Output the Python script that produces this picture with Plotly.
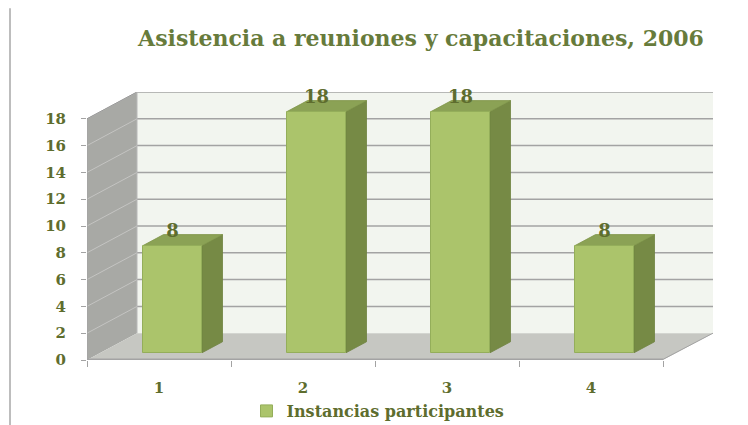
import plotly.graph_objects as go

# ---------------- data ----------------
categories = ["1", "2", "3", "4"]
values = [8, 18, 18, 8]
y_tick_values = [0, 2, 4, 6, 8, 10, 12, 14, 16, 18]
series_name = "Instancias participantes"
chart_title = "Asistencia a reuniones y capacitaciones, 2006"

# ---------------- geometry (pseudo 3-D) ----------------
W, H = 748, 439
L, R, T, B = 87, 715, 92, 361          # plot-area pixel box
PX_PER_CAT = 144.0
X0 = 0.5
X_END = X0 + (R - L) / PX_PER_CAT
Y_TOP = 20
DX = 50 / PX_PER_CAT
DY = 2
F0, F1 = 0.27, 0.68
BW = 59 / PX_PER_CAT

n = len(categories)
xpos = [i + 1 for i in range(n)]
x_last = X0 + n

wall_back = "#F2F5EF"
wall_left = "#A8A9A5"
floor_c = "#C6C7C2"
grid_c = "#A3A3A3"
bar_front = "#ABC46B"
bar_edge = "#94AE5A"
bar_side = "#768A45"
bar_top = "#8BA255"
text_c = "#5E6D2E"
title_c = "#677B3B"

shapes = []
shapes.append(dict(type="rect", xref="x", yref="y", x0=X0 + DX, x1=x_last + DX,
                   y0=DY, y1=Y_TOP, fillcolor=wall_back, line=dict(width=0), layer="below"))
shapes.append(dict(type="path", xref="x", yref="y",
                   path=f"M {X0},0 L {X0},{y_tick_values[-1]} L {X0+DX},{y_tick_values[-1]+DY} L {X0+DX},{DY} Z",
                   fillcolor=wall_left, line=dict(width=0), layer="below"))
shapes.append(dict(type="path", xref="x", yref="y",
                   path=f"M {X0},0 L {x_last},0 L {x_last+DX},{DY} L {X0+DX},{DY} Z",
                   fillcolor=floor_c, line=dict(width=0), layer="below"))
for v in y_tick_values[1:]:
    shapes.append(dict(type="line", xref="x", yref="y", x0=X0 + DX, x1=x_last + DX,
                       y0=v + DY, y1=v + DY, line=dict(color=grid_c, width=1.5), layer="below"))
for v in y_tick_values[1:]:
    shapes.append(dict(type="line", xref="x", yref="y", x0=X0, x1=X0 + DX,
                       y0=v, y1=v + DY, line=dict(color="#C4C4C2", width=1), layer="below"))
shapes.append(dict(type="line", xref="x", yref="y", x0=X0, x1=X0, y0=0,
                   y1=y_tick_values[-1], line=dict(color=grid_c, width=1.2), layer="below"))
shapes.append(dict(type="line", xref="x", yref="y", x0=X0, x1=X0 + DX, y0=y_tick_values[-1],
                   y1=y_tick_values[-1] + DY, line=dict(color="#999999", width=1), layer="below"))
shapes.append(dict(type="line", xref="x", yref="y", x0=X0, x1=x_last, y0=0.05, y1=0.05,
                   line=dict(color=grid_c, width=1.5), layer="below"))
shapes.append(dict(type="line", xref="x", yref="y", x0=x_last, x1=x_last + DX, y0=0.05, y1=DY,
                   line=dict(color=grid_c, width=1), layer="below"))
shapes.append(dict(type="line", xref="x", yref="y", x0=X0 + DX, x1=X0 + DX, y0=DY, y1=Y_TOP,
                   line=dict(color="#B8B8B8", width=1), layer="below"))

ddx = (F1 - F0) * DX
ddy = (F1 - F0) * DY
base = F0 * DY
for xc, v in zip(xpos, values):
    cx = xc + F0 * DX
    xl, xr = cx - BW / 2, cx + BW / 2
    top = base + v
    shapes.append(dict(type="path", xref="x", yref="y",
                       path=f"M {xr},{base} L {xr+ddx},{base+ddy} L {xr+ddx},{top+ddy} L {xr},{top} Z",
                       fillcolor=bar_side, line=dict(color="#6F8340", width=0.8), layer="below"))
    shapes.append(dict(type="path", xref="x", yref="y",
                       path=f"M {xl},{top} L {xl+ddx},{top+ddy} L {xr+ddx},{top+ddy} L {xr},{top} Z",
                       fillcolor=bar_top, line=dict(color="#7F9649", width=0.8), layer="below"))


def px_to_paper_x(px):
    return (px - L) / (R - L)


def px_to_paper_y(py):
    return (B - py) / (B - T)


shapes.append(dict(type="line", xref="paper", yref="paper",
                   x0=px_to_paper_x(10), x1=px_to_paper_x(10),
                   y0=px_to_paper_y(8), y1=px_to_paper_y(H),
                   line=dict(color="#BDBDBD", width=2)))

fig = go.Figure()
fig.add_trace(go.Bar(
    x=[xc + F0 * DX for xc in xpos], y=values, base=[base] * n, width=BW,
    name=series_name,
    marker=dict(color=bar_front, line=dict(color=bar_edge, width=1)),
    hoverinfo="skip",
))
fig.add_trace(go.Scatter(
    x=[xc + F0 * DX for xc in xpos], y=[base + v + 1.0 for v in values],
    text=[str(v) for v in values], mode="text", showlegend=False,
    textfont=dict(family="DejaVu Serif", size=18, color=text_c, weight="bold"),
    hoverinfo="skip", cliponaxis=False,
))

fig.update_layout(
    width=W, height=H, autosize=False,
    margin=dict(l=L, r=W - R, t=T, b=H - B, pad=0),
    paper_bgcolor="white", plot_bgcolor="white",
    shapes=shapes,
    showlegend=True,
    title=dict(text=chart_title, x=421 / W, xref="container", xanchor="center",
               y=1 - 38 / H, yref="container", yanchor="middle",
               font=dict(family="DejaVu Serif", size=22, color=title_c, weight="bold")),
    legend=dict(orientation="h", x=px_to_paper_x(378), xanchor="center",
                y=px_to_paper_y(411), yanchor="middle",
                font=dict(family="DejaVu Serif", size=16, color=text_c, weight="bold"),
                bgcolor="rgba(0,0,0,0)", itemwidth=30),
    xaxis=dict(range=[X0, X_END], tickvals=xpos, ticktext=categories, ticks="",
               showgrid=False, zeroline=False, showline=False,
               ticklabelstandoff=17,
               tickfont=dict(family="DejaVu Serif", size=15, color=text_c, weight="bold"),
               minor=dict(tickvals=[X0 + i for i in range(n + 1)], ticks="outside",
                          ticklen=6, tickcolor=grid_c, showgrid=False)),
    yaxis=dict(range=[0, Y_TOP], tickvals=y_tick_values, ticks="outside", ticklen=5,
               tickcolor=grid_c, showgrid=False, zeroline=False, showline=False,
               ticklabelstandoff=12,
               tickfont=dict(family="DejaVu Serif", size=15, color=text_c, weight="bold")),
    bargap=0,
)

fig.write_html("out.html",
               config={"displayModeBar": False, "responsive": False},
               post_script="document.body.style.margin='0';document.body.style.overflow='hidden';")
